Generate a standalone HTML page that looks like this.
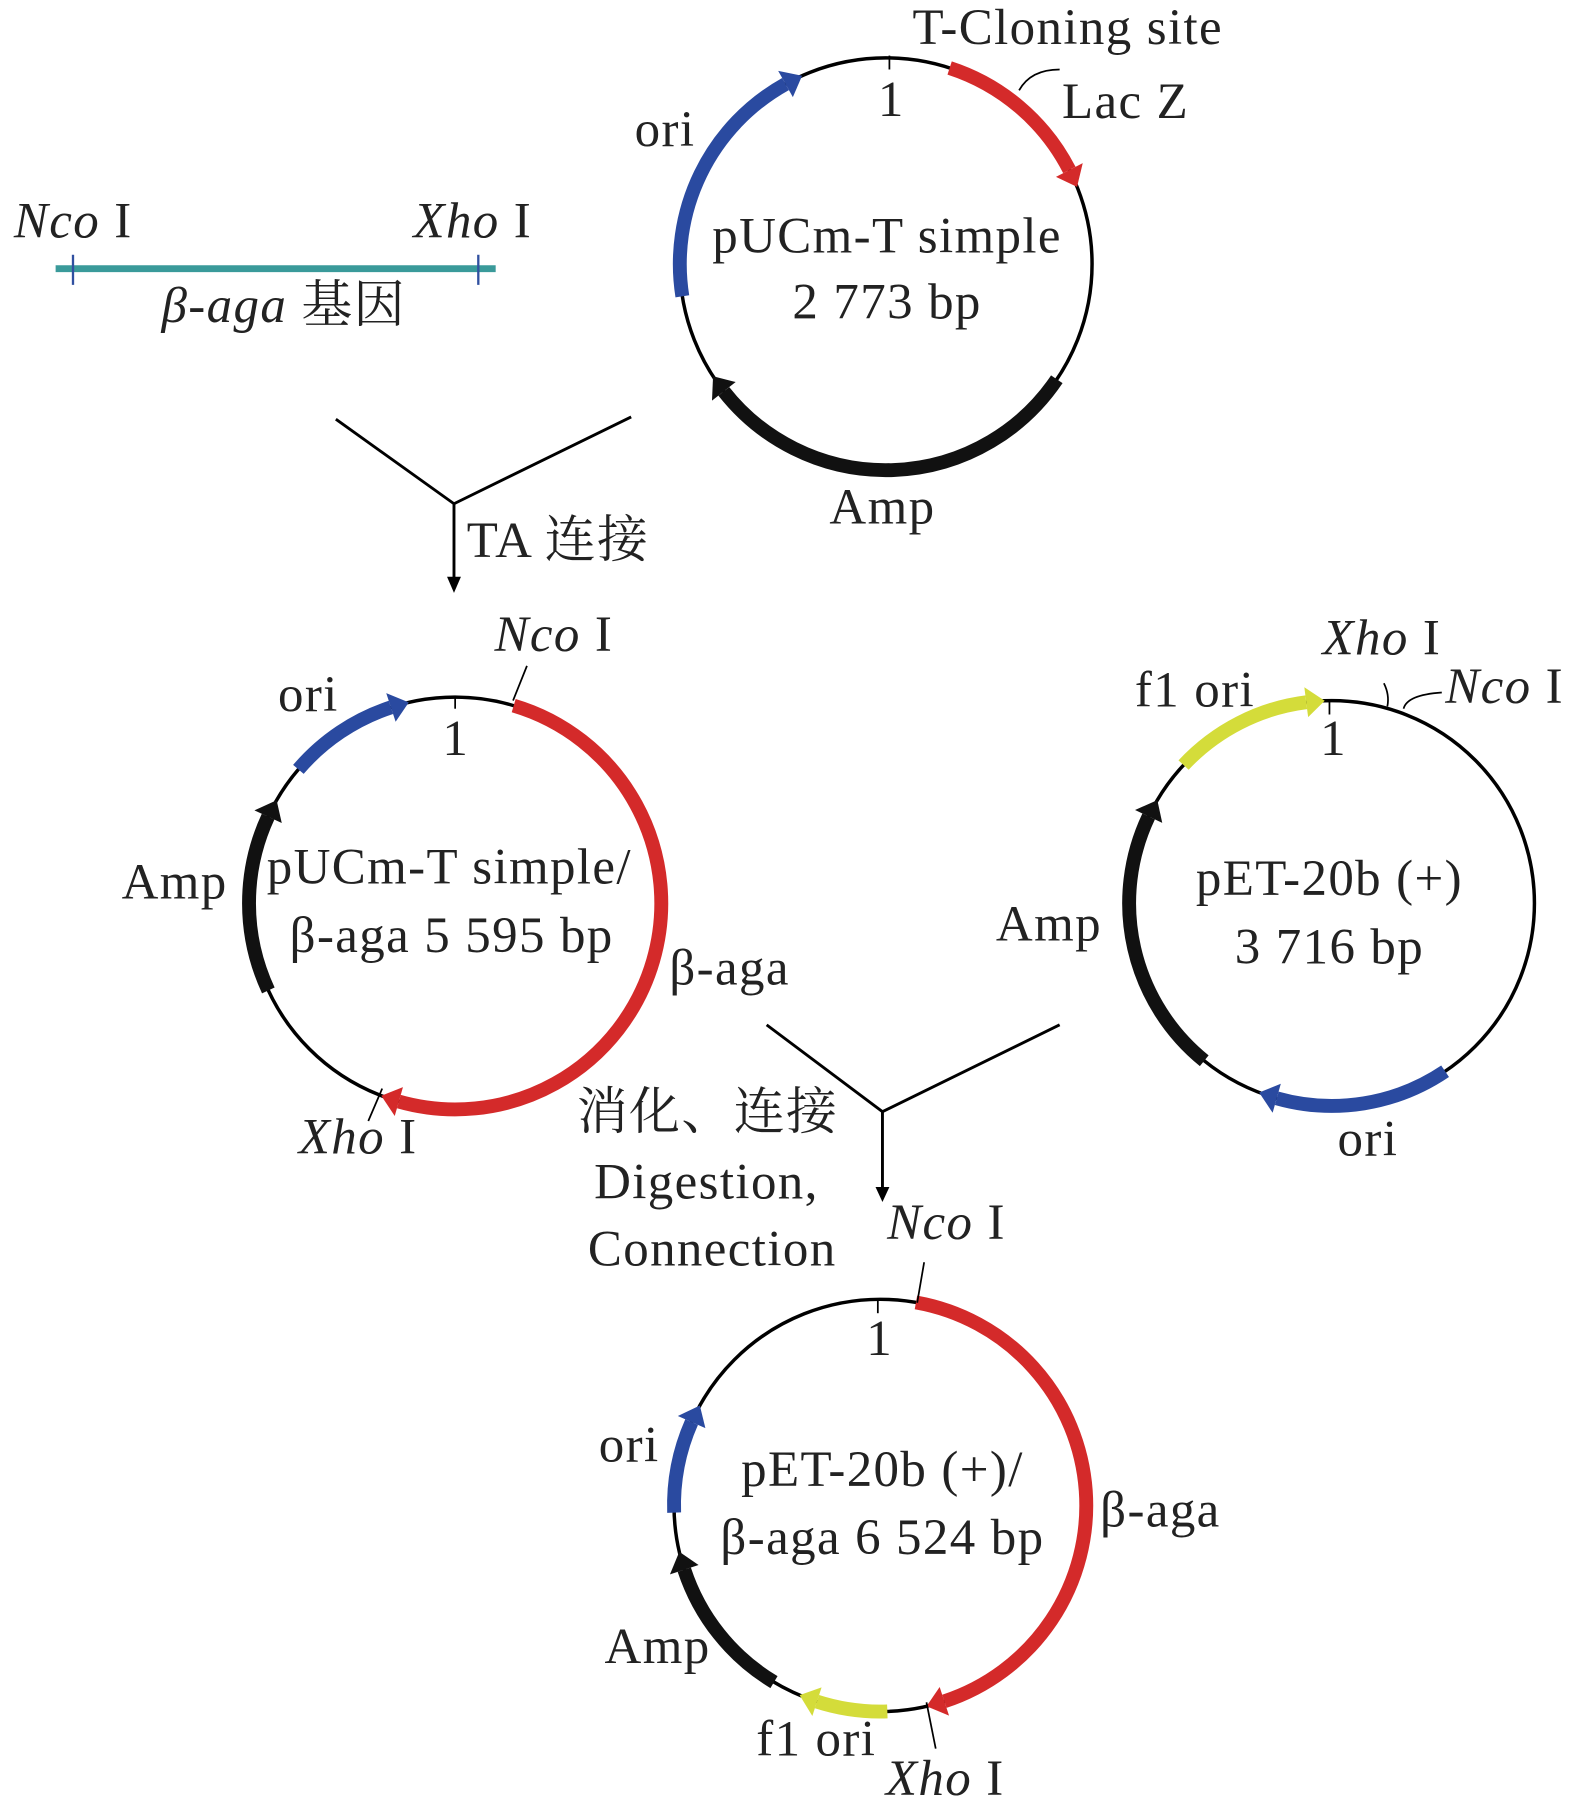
<!DOCTYPE html>
<html><head><meta charset="utf-8"><style>
html,body{margin:0;padding:0;background:#fff}
svg{display:block}
text{font-family:"Liberation Serif","Noto Serif CJK SC",serif;font-size:44px;letter-spacing:1.2px;fill:#222}
</style></head><body>
<svg id="s" width="1575" height="1810" viewBox="0 0 1360 1563" xmlns="http://www.w3.org/2000/svg">
<g fill="none" stroke="#000" stroke-width="3">
<circle cx="765" cy="228" r="178"/>
<circle cx="393" cy="780" r="178"/>
<circle cx="1150" cy="780" r="175"/>
<circle cx="760" cy="1300" r="178"/>
</g>
<g id="arcs"></g>
<line x1="48" y1="232" x2="428" y2="232" stroke="#3a9a9a" stroke-width="6"/>
<line x1="63" y1="220" x2="63" y2="246" stroke="#3050a0" stroke-width="2"/>
<line x1="413" y1="220" x2="413" y2="246" stroke="#3050a0" stroke-width="2"/>
<g stroke="#000" stroke-width="2.5" fill="none">
<polyline points="290,362 392,435 545,360"/><line x1="392" y1="435" x2="392" y2="500"/>
<polyline points="662,885 762,960 915,885"/><line x1="762" y1="960" x2="762" y2="1027"/>
</g>
<polygon points="386,498 398,498 392,512" fill="#000"/>
<polygon points="756,1025 768,1025 762,1038" fill="#000"/>
<g stroke="#000" stroke-width="1.5" fill="none">
<line x1="768" y1="48" x2="768" y2="60"/>
<path d="M880,78 Q890,60 915,60"/>
<line x1="393" y1="602" x2="393" y2="612"/>
<path d="M443,605 L455,575"/>
<path d="M318,968 L330,940"/>
<line x1="1148" y1="605" x2="1148" y2="617"/>
<path d="M1195,590 Q1200,600 1198,610"/>
<path d="M1212,612 Q1215,600 1245,598"/>
<line x1="758" y1="1122" x2="758" y2="1134"/>
<path d="M792,1125 L798,1090"/>
<path d="M800,1470 L808,1510"/>
</g>
<text x="788" y="38">T-Cloning site</text>
<text x="917" y="102">Lac Z</text>
<text x="548" y="126">ori</text>
<text x="758" y="100" font-size="40">1</text>
<text x="766" y="218" text-anchor="middle">pUCm-T simple</text>
<text x="766" y="275" text-anchor="middle">2 773 bp</text>
<text x="762" y="452" text-anchor="middle">Amp</text>
<text x="12" y="205"><tspan font-style="italic">Nco</tspan> I</text>
<text x="357" y="205"><tspan font-style="italic">Xho</tspan> I</text>
<text x="245" y="278" text-anchor="middle"><tspan font-style="italic">β-aga</tspan> 基因</text>
<text x="403" y="481">TA 连接</text>
<text x="427" y="562"><tspan font-style="italic">Nco</tspan> I</text>
<text x="240" y="614">ori</text>
<text x="382" y="652" font-size="40">1</text>
<text x="105" y="776">Amp</text>
<text x="388" y="763" text-anchor="middle">pUCm-T simple/</text>
<text x="390" y="822" text-anchor="middle">β-aga 5 595 bp</text>
<text x="578" y="850">β-aga</text>
<text x="258" y="996"><tspan font-style="italic">Xho</tspan> I</text>
<text x="1142" y="565"><tspan font-style="italic">Xho</tspan> I</text>
<text x="1248" y="607"><tspan font-style="italic">Nco</tspan> I</text>
<text x="980" y="610">f1 ori</text>
<text x="1140" y="652" font-size="40">1</text>
<text x="1148" y="773" text-anchor="middle">pET-20b (+)</text>
<text x="1148" y="832" text-anchor="middle">3 716 bp</text>
<text x="860" y="812">Amp</text>
<text x="1155" y="998">ori</text>
<text x="498" y="975">消化、连接</text>
<text x="610" y="1035" text-anchor="middle">Digestion,</text>
<text x="615" y="1093" text-anchor="middle">Connection</text>
<text x="766" y="1070"><tspan font-style="italic">Nco</tspan> I</text>
<text x="748" y="1170" font-size="40">1</text>
<text x="517" y="1262">ori</text>
<text x="762" y="1283" text-anchor="middle">pET-20b (+)/</text>
<text x="762" y="1342" text-anchor="middle">β-aga 6 524 bp</text>
<text x="950" y="1318">β-aga</text>
<text x="522" y="1436">Amp</text>
<text x="653" y="1516">f1 ori</text>
<text x="765" y="1550"><tspan font-style="italic">Xho</tspan> I</text>
</svg>
<script>
(function(){
var g=document.getElementById('arcs'),NS='http://www.w3.org/2000/svg';
function P(cx,cy,r,a){a=a*Math.PI/180;return [cx+r*Math.sin(a),cy-r*Math.cos(a)];}
function arc(cx,cy,r,a0,a1,col){
  var ae=a1-(16/r)*180/Math.PI;
  var p0=P(cx,cy,r,a0),p1=P(cx,cy,r,ae);
  var large=(ae-a0)>180?1:0;
  var p=document.createElementNS(NS,'path');
  p.setAttribute('d','M'+p0+' A'+r+','+r+' 0 '+large+' 1 '+p1);
  p.setAttribute('stroke',col);p.setAttribute('stroke-width','12');p.setAttribute('fill','none');
  g.appendChild(p);
  var o=P(cx,cy,r+13,ae),i=P(cx,cy,r-13,ae),t=P(cx,cy,r,a1);
  var tr=document.createElementNS(NS,'polygon');
  tr.setAttribute('points',o+' '+t+' '+i);tr.setAttribute('fill',col);
  g.appendChild(tr);
}
var R='#d42a2a',B='#2a4aa0',K='#111',Y='#d4dc3a';
arc(765,228,178,-99,-24,B);arc(765,228,178,18,68,R);arc(765,228,178,124,237,K);
arc(393,780,178,-49.5,-13,B);arc(393,780,178,16.5,201,R);arc(393,780,178,245,300,K);
arc(1150,780,175,-47,-2,Y);arc(1150,780,175,219,300.6,K);arc(1150,780,175,146,201,B);
arc(760,1300,178,10,167,R);arc(760,1300,178,178,203,Y);arc(760,1300,178,211,257,K);arc(760,1300,178,268,299,B);
})();
</script>
</body></html>
